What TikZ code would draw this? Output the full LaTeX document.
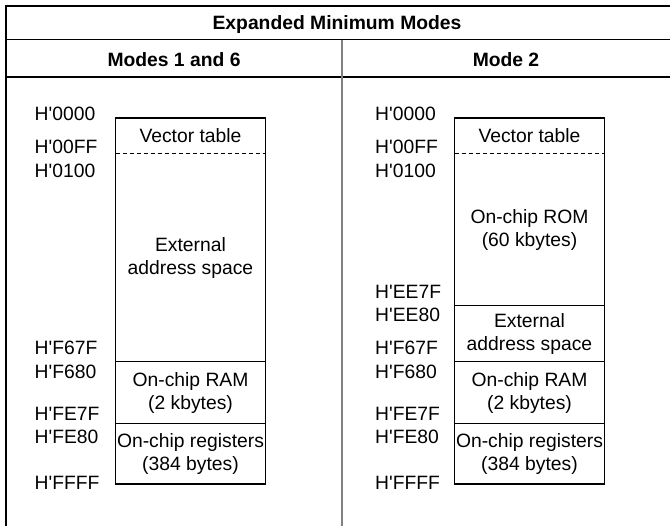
\documentclass[tikz,border=0pt]{standalone}
\usepackage{fontspec}
\setmainfont{Liberation Sans}
\usetikzlibrary{positioning}
\newcommand{\mapfont}{\fontsize{19.3}{23.5}\selectfont}
\newcommand{\hx}{H\textquotesingle}
\definecolor{divGray}{HTML}{808080}

\begin{document}
\begin{tikzpicture}[
    x=1pt, y=-1pt,
    region/.style={minimum width=150pt, inner sep=0pt, outer sep=0pt, align=center, font=\mapfont},
    addr/.style={anchor=base west, inner sep=0pt, font=\mapfont},
    head/.style={anchor=base, inner sep=0pt, font=\mapfont\bfseries},
    frame/.style={line width=1.4pt},
    sepline/.style={line width=1pt},
    vecsep/.style={line width=1pt, dash pattern=on 4pt off 3pt}
  ]
  \useasboundingbox (0,0) rectangle (670,526);

  % Table frame
  \draw[line width=2pt] (5,6) -- (670,6);
  \draw[line width=1.6pt] (6,5) -- (6,526);
  \draw[line width=1pt] (6,40) -- (670,40);
  \draw[line width=1.8pt] (6,77) -- (670,77);
  \draw[divGray, line width=1.5pt] (342,40) -- (342,526);

  % Headings
  \node[head] (title) at (337,30) {Expanded Minimum Modes};
  \node[head] (modeA) at (174,67) {Modes 1 and 6};
  \node[head] (modeB) at (506,67) {Mode 2};

  % Modes 1 and 6
  \node[region, minimum height=36pt, anchor=north west] (vecL) at (115.5,118) {Vector table};
  \node[region, minimum height=208pt, below=0pt of vecL] (extL) {External\\address space};
  \node[region, minimum height=62pt, below=0pt of extL] (ramL) {On-chip RAM\\(2 kbytes)};
  \node[region, minimum height=60pt, below=0pt of ramL] (regL) {On-chip registers\\(384 bytes)};
  \draw[frame] (vecL.north west) rectangle (regL.south east);
  \draw[vecsep] (vecL.south west) -- (vecL.south east);
  \draw[sepline] (extL.south west) -- (extL.south east);
  \draw[sepline] (ramL.south west) -- (ramL.south east);

  \foreach \lab/\yy in {0000/121, 00FF/154, 0100/178, F67F/355, F680/379, FE7F/421, FE80/444, FFFF/490}
    \node[addr] (aL\lab) at (34.5,\yy) {\hx\lab};

  % Mode 2
  \node[region, minimum height=36pt, anchor=north west] (vecR) at (454.5,118) {Vector table};
  \node[region, minimum height=152pt, below=0pt of vecR] (romR) {On-chip ROM\\(60 kbytes)};
  \node[region, minimum height=56pt, below=0pt of romR] (extR) {External\\address space};
  \node[region, minimum height=62pt, below=0pt of extR] (ramR) {On-chip RAM\\(2 kbytes)};
  \node[region, minimum height=60pt, below=0pt of ramR] (regR) {On-chip registers\\(384 bytes)};
  \draw[frame] (vecR.north west) rectangle (regR.south east);
  \draw[vecsep] (vecR.south west) -- (vecR.south east);
  \draw[sepline] (romR.south west) -- (romR.south east);
  \draw[sepline] (extR.south west) -- (extR.south east);
  \draw[sepline] (ramR.south west) -- (ramR.south east);

  \foreach \lab/\yy in {0000/121, 00FF/154, 0100/178, EE7F/299, EE80/322, F67F/355, F680/379, FE7F/421, FE80/444, FFFF/490}
    \node[addr] (aR\lab) at (375,\yy) {\hx\lab};
\end{tikzpicture}
\end{document}
